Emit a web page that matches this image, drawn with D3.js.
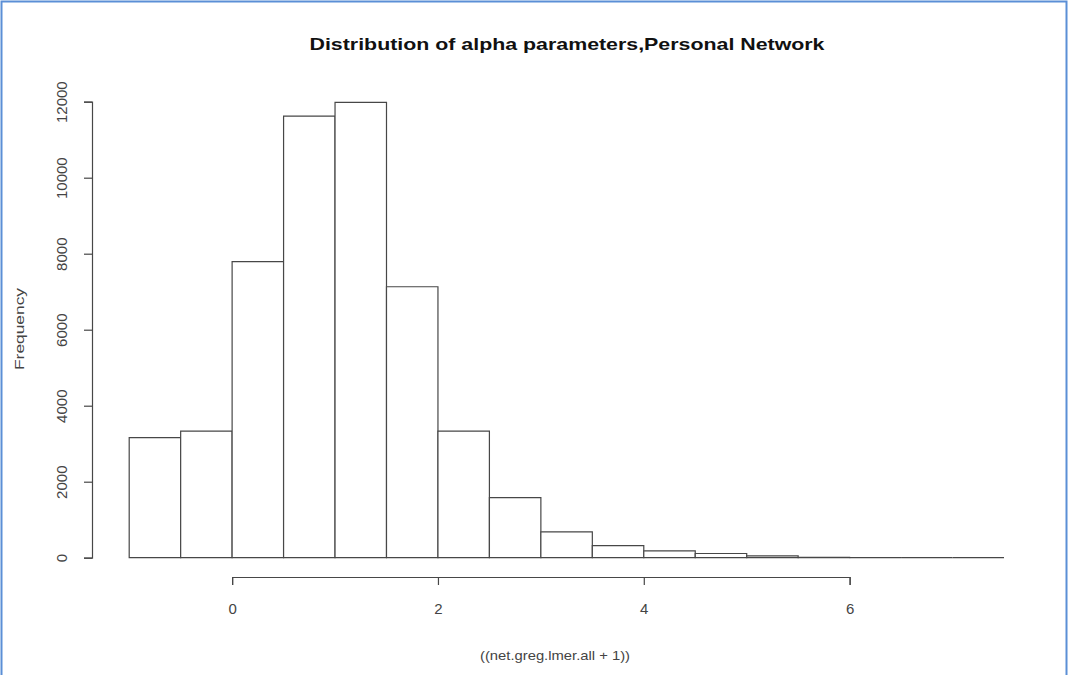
<!DOCTYPE html>
<html>
<head>
<meta charset="utf-8">
<script src="https://cdn.jsdelivr.net/npm/d3@7"></script>
<style>
  body { margin: 0; background: #fff; }
  svg text { font-family: "Liberation Sans", Arial, sans-serif; }
</style>
</head>
<body>
<div id="container"></div>
<script>
// histogram data
var breaks = [-1, -0.5, 0, 0.5, 1, 1.5, 2, 2.5, 3, 3.5, 4, 4.5, 5, 5.5, 6, 6.5, 7, 7.5];
var counts = [3160, 3330, 7790, 11620, 11980, 7130, 3330, 1580, 680, 320, 180, 110, 50, 10, 0, 0, 0];
var xTicks = [0, 2, 4, 6];
var yTicks = [0, 2000, 4000, 6000, 8000, 10000, 12000];

var w = 1069, h = 675;

var svg = d3.select("div#container")
  .append("svg")
  .attr("width", w)
  .attr("height", h);

svg.append("rect")
  .attr("width", w)
  .attr("height", h)
  .attr("fill", "#fff");

// blue frame round the picture
svg.append("path")
  .attr("d", "M1.5," + h + "V1.5H" + (w - 2.5) + "V" + h)
  .attr("fill", "none")
  .attr("stroke", "#5b8fd6")
  .attr("stroke-width", 2);

var x = d3.scaleLinear().domain([-1, 7.5]).range([129.2, 1004]);
var y = d3.scaleLinear().domain([0, 12000]).range([557.7, 101.7]);

var bins = counts.map(function(c, i) { return { x0: breaks[i], x1: breaks[i + 1], n: c }; });

var ink = "#474747";

// bars as closed paths so empty bins still show as a line on the base
svg.append("g")
  .selectAll("path")
  .data(bins)
  .enter().append("path")
  .attr("d", function(d) {
    var x0 = x(d.x0), x1 = x(d.x1), y0 = y(0), y1 = y(d.n);
    return "M" + x0 + "," + y0 + "V" + y1 + "H" + x1 + "V" + y0 + "Z";
  })
  .attr("fill", "#fff")
  .attr("stroke", ink)
  .attr("stroke-width", 1.2);

// x axis, R style: only spans the ticks and sits below the bars
var xa = d3.scaleLinear().domain([0, 6]).range([x(0), x(6)]);
var gx = svg.append("g")
  .attr("transform", "translate(0,577)")
  .call(d3.axisBottom(xa).tickValues(xTicks).tickSize(8).tickSizeOuter(8).tickPadding(18).tickFormat(d3.format("d")));

// y axis
var ya = d3.scaleLinear().domain([0, 12000]).range([y(0), y(12000)]);
var gy = svg.append("g")
  .attr("transform", "translate(92,0)")
  .call(d3.axisLeft(ya).tickValues(yTicks).tickSize(8).tickSizeOuter(8).tickPadding(0).tickFormat(d3.format("d")));

gy.selectAll(".tick text")
  .attr("transform", "rotate(-90)")
  .attr("x", 0)
  .attr("dx", 0)
  .attr("dy", 0)
  .attr("y", -25)
  .attr("text-anchor", "middle");

[gx, gy].forEach(function(g) {
  g.select(".domain").attr("stroke", ink).attr("stroke-width", 1.2);
  g.selectAll(".tick line").attr("stroke", ink).attr("stroke-width", 1.2);
  g.selectAll(".tick text")
    .attr("fill", "#444")
    .style("font-size", "15px")
    .style("font-family", "'Liberation Sans', Arial, sans-serif");
});

// titles (the source picture is stretched sideways, so widths are fixed)
svg.append("text")
  .attr("x", 567)
  .attr("y", 50)
  .attr("text-anchor", "middle")
  .attr("fill", "#111")
  .attr("textLength", 515)
  .attr("lengthAdjust", "spacingAndGlyphs")
  .style("font-size", "17px")
  .style("font-weight", "bold")
  .text("Distribution of alpha parameters,Personal Network");

svg.append("text")
  .attr("x", 555)
  .attr("y", 660)
  .attr("text-anchor", "middle")
  .attr("fill", "#444")
  .attr("textLength", 150)
  .attr("lengthAdjust", "spacingAndGlyphs")
  .style("font-size", "13.5px")
  .text("((net.greg.lmer.all + 1))");

svg.append("text")
  .attr("transform", "translate(24,329) rotate(-90)")
  .attr("text-anchor", "middle")
  .attr("fill", "#444")
  .attr("textLength", 82)
  .attr("lengthAdjust", "spacingAndGlyphs")
  .style("font-size", "13.5px")
  .text("Frequency");
</script>
</body>
</html>
